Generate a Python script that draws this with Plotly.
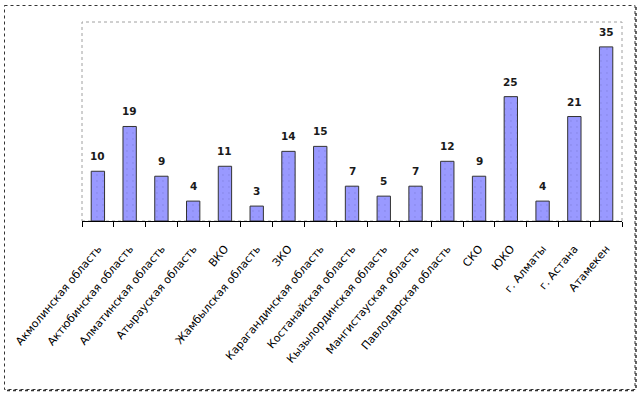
import plotly.graph_objects as go

categories = ["Акмолинская область", "Актюбинская область", "Алматинская область",
              "Атырауская область", "ВКО", "Жамбылская область", "ЗКО",
              "Карагандинская область", "Костанайская область", "Кызылординская область",
              "Мангистауская область", "Павлодарская область", "СКО", "ЮКО",
              "г. Алматы", "г. Астана", "Атамекен"]
values = [10, 19, 9, 4, 11, 3, 14, 15, 7, 5, 7, 12, 9, 25, 4, 21, 35]

fig = go.Figure()
fig.add_trace(go.Bar(
    x=categories, y=values, width=0.42,
    marker=dict(color="#9999ff", line=dict(color="#333333", width=1),
                pattern=dict(shape=".", fgcolor="#8080e0", bgcolor="#9999ff", size=6, solidity=0.08)),
    hoverinfo="skip",
))

annotations = []
for c, v in zip(categories, values):
    annotations.append(dict(x=c, y=v, text="<b>" + str(v) + "</b>", showarrow=False, yanchor="bottom",
                            yshift=7, font=dict(family="DejaVu Sans", size=10.5, color="#1a1a1a"),
                            xref="x", yref="y"))

def px_x(px):
    return (px - 82) / 540.0

def px_y(py):
    return (221 - py) / 199.0

shapes = [
    dict(type="rect", xref="paper", yref="paper", x0=0, x1=1, y0=0, y1=1,
         line=dict(color="#a0a0a0", width=1, dash="dot"), layer="below"),
    dict(type="rect", xref="paper", yref="paper", x0=px_x(4.5), x1=px_x(635), y0=px_y(5.5), y1=px_y(389.5),
         line=dict(color="#333333", width=1, dash="dot")),
    dict(type="line", xref="paper", yref="paper", x0=px_x(636), x1=px_x(636), y0=px_y(7), y1=px_y(390.5),
         line=dict(color="#333333", width=1.5, dash="dot")),
    dict(type="line", xref="paper", yref="paper", x0=px_x(7), x1=px_x(636), y0=px_y(390.5), y1=px_y(390.5),
         line=dict(color="#333333", width=1.5, dash="dot")),
]

fig.update_layout(
    width=642, height=397,
    margin=dict(l=82, r=20, t=22, b=176, autoexpand=False),
    paper_bgcolor="white", plot_bgcolor="white",
    showlegend=False,
    annotations=annotations,
    shapes=shapes,
    xaxis=dict(showline=True, linecolor="black", linewidth=1, ticks="outside", tickson="boundaries",
               ticklen=5, tickcolor="black", tickangle=-50, showgrid=False, automargin=False,
               tickfont=dict(family="DejaVu Sans", size=11, color="black"),
               ticklabelstandoff=16),
    yaxis=dict(visible=False, range=[0, 40], showgrid=False, zeroline=False, automargin=False),
)

fig.write_html("out.html", config={"displayModeBar": False},
               post_script="document.body.style.margin='0';document.body.style.overflow='hidden';")
